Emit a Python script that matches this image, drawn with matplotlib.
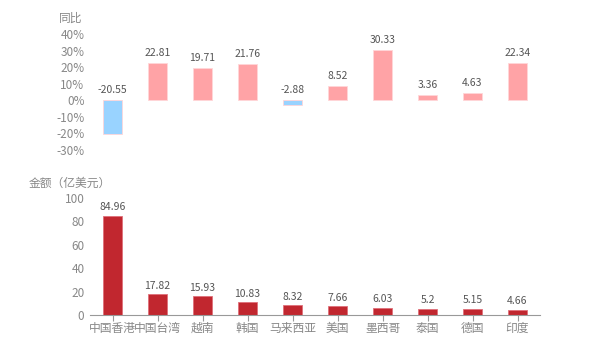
import matplotlib
matplotlib.use("Agg")
import matplotlib.pyplot as plt
import numpy as np

plt.rcParams['font.family'] = ['Noto Sans CJK SC', 'DejaVu Sans']

categories = ["中国香港", "中国台湾", "越南", "韩国", "马来西亚", "美国", "墨西哥", "泰国", "德国", "印度"]
yoy = [-20.55, 22.81, 19.71, 21.76, -2.88, 8.52, 30.33, 3.36, 4.63, 22.34]
amount = [84.96, 17.82, 15.93, 10.83, 8.32, 7.66, 6.03, 5.2, 5.15, 4.66]
yoy_ticks = [-30, -20, -10, 0, 10, 20, 30, 40]
amt_ticks = [0, 20, 40, 60, 80, 100]

pos_color = "#FFA3A6"
neg_color = "#99D3FF"
amt_color = "#C1272F"
tick_color = "#888888"
label_color = "#555555"

fig = plt.figure(figsize=(6, 3.5), dpi=100)
x = np.arange(len(categories))
bw = 0.44

# top axes
ax1 = fig.add_axes([0.15, 0.5714, 0.75, 0.3314])
cols = [pos_color if v >= 0 else neg_color for v in yoy]
ax1.bar(x, yoy, width=bw, color=cols, edgecolor="#FFD6D8", linewidth=0.6)
for xi, v in zip(x, yoy):
    if v >= 0:
        ax1.text(xi, v + 3, f"{v:g}", ha="center", va="bottom", fontsize=7.5, color=label_color)
    else:
        ax1.text(xi, 3, f"{v:g}", ha="center", va="bottom", fontsize=7.5, color=label_color)
ax1.set_xlim(-0.5, len(categories) - 0.5)
ax1.set_ylim(-30, 40)
ax1.set_yticks(yoy_ticks)
ax1.set_yticklabels([f"{t}%" for t in yoy_ticks])
ax1.set_xticks([])
for s in ax1.spines.values():
    s.set_visible(False)
ax1.tick_params(axis="y", length=0, labelsize=8.5, labelcolor=tick_color, pad=4)
fig.text(0.137, 0.948, "同比", ha="right", va="center", fontsize=8.5, color=tick_color)

# bottom axes
ax2 = fig.add_axes([0.15, 0.1, 0.75, 0.3343])
ax2.bar(x, amount, width=bw, color=amt_color, edgecolor="#E0707A", linewidth=0.6)
for xi, v in zip(x, amount):
    ax2.text(xi, v + 3, f"{v:g}", ha="center", va="bottom", fontsize=7.5, color=label_color)
ax2.set_xlim(-0.5, len(categories) - 0.5)
ax2.set_ylim(0, 100)
ax2.set_yticks(amt_ticks)
ax2.set_xticks(x)
ax2.set_xticklabels(categories)
for k in ["top", "right", "left"]:
    ax2.spines[k].set_visible(False)
ax2.spines["bottom"].set_color("#999999")
ax2.tick_params(axis="y", length=0, labelsize=8.5, labelcolor=tick_color, pad=4)
ax2.tick_params(axis="x", length=4, color="#999999", labelsize=8.5, labelcolor=tick_color, pad=1)
fig.text(0.047, 0.477, "金额（亿美元）", ha="left", va="center", fontsize=8.5, color=tick_color)

fig.savefig("out.png", dpi=100)
